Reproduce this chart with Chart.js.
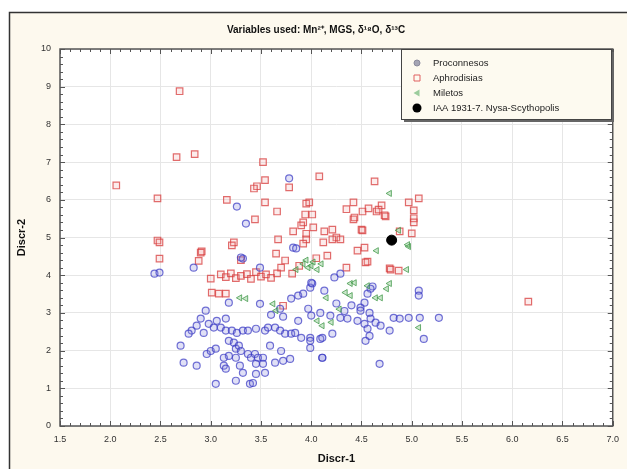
<!DOCTYPE html>
<html>
<head>
<meta charset="utf-8">
<script src="https://cdn.jsdelivr.net/npm/chart.js@4.4.0/dist/chart.umd.min.js"></script>
<style>
  html, body { margin: 0; padding: 0; background: #fff; }
  canvas { display: block; }
</style>
</head>
<body>
<canvas id="myChart" width="627" height="469"></canvas>
<script>
// Proconnesos
var procX = [2.95, 2.90, 2.98, 2.86, 2.81, 2.78, 2.93, 3.03, 3.06, 3.15, 3.10, 3.15, 3.21, 3.26, 3.32, 3.37, 3.45, 3.54, 3.57, 3.64, 3.69, 3.74, 3.80, 3.84, 3.90, 3.99, 4.09,
	2.70, 2.96, 3.00, 3.05, 3.18, 3.23, 3.25, 3.28, 3.30, 3.25, 3.18, 3.13, 3.37, 3.40, 3.44, 3.47, 3.52, 3.45, 3.52, 3.59, 3.70, 3.64, 3.72, 3.79, 3.99, 3.99, 4.11,
	2.73, 2.86, 3.13, 3.15, 3.29, 3.32, 3.45, 3.54, 3.05, 3.25, 3.39, 3.42,
	3.18, 3.49, 3.69, 3.80, 3.87, 3.92, 3.99, 4.01, 3.87, 3.97, 4.00, 4.13, 2.44, 2.49, 3.32, 2.83, 3.30, 3.49, 4.00, 4.23, 4.61, 3.82, 3.85, 3.78, 3.26, 3.35, 4.29,
	4.59, 4.56, 4.53, 4.49, 5.07, 5.07, 4.09, 4.19, 4.29, 4.36, 4.49, 4.58, 4.59, 4.64, 4.69, 4.46, 4.53, 4.56, 4.58, 4.54, 4.82, 4.88, 4.97, 5.08, 4.78, 5.12,
	4.11, 4.21, 4.11, 5.27, 4.68, 4.25, 4.33, 4.40, 3.60, 3.72];
var procY = [3.06, 2.85, 2.71, 2.66, 2.53, 2.45, 2.47, 2.61, 2.79, 2.85, 2.61, 2.53, 2.53, 2.47, 2.53, 2.53, 2.58, 2.53, 2.61, 2.61, 2.53, 2.45, 2.45, 2.47, 2.34, 2.34, 2.31,
	2.13, 1.91, 1.99, 2.05, 2.26, 2.21, 2.05, 2.13, 1.99, 1.81, 1.86, 1.81, 1.91, 1.81, 1.91, 1.81, 1.81, 1.65, 1.65, 2.13, 1.99, 1.68, 1.73, 1.78, 2.26, 2.07, 1.81,
	1.68, 1.60, 1.60, 1.52, 1.60, 1.41, 1.38, 1.41, 1.12, 1.20, 1.12, 1.14,
	3.27, 3.24, 3.11, 3.38, 3.46, 3.51, 3.67, 3.78, 2.79, 3.11, 2.93, 3.59, 4.04, 4.07, 4.44, 4.20, 4.47, 4.20, 3.80, 3.94, 3.70, 4.73, 4.71, 6.57, 5.82, 5.37, 4.04,
	3.64, 3.51, 3.27, 3.14, 3.59, 3.46, 3.00, 2.93, 2.87, 2.85, 3.06, 3.00, 2.85, 2.74, 2.66, 2.79, 2.71, 2.58, 2.39, 2.26, 2.87, 2.85, 2.87, 2.87, 2.53, 2.31,
	2.34, 2.45, 1.81, 2.87, 1.65, 3.25, 3.05, 3.20, 2.95, 2.90];

// Aphrodisias
var aphX = [2.69, 2.66, 2.84, 2.06, 2.47, 3.52, 3.46, 3.54, 3.43, 3.78, 3.16, 3.54, 3.66, 3.95, 3.44, 3.92, 2.47, 4.08, 4.63, 3.98, 4.42, 4.51, 4.57, 4.65, 4.70,
	4.74, 4.42, 3.94, 4.01, 3.90, 4.02, 4.13, 4.21, 4.25, 4.21, 4.29, 4.50, 3.82, 3.67, 3.95, 3.92, 4.12, 4.46, 4.53, 3.23, 3.21, 3.65, 3.74, 4.16, 4.56, 4.78,
	2.91, 3.00, 3.10, 3.15, 3.20, 3.25, 3.30, 3.36, 3.40, 3.45, 3.50, 3.55, 3.60, 3.66, 3.81, 4.97, 5.07, 5.02, 5.02, 5.02, 5.00, 4.88, 4.73, 4.67, 4.43, 4.51,
	4.79, 4.87, 6.16, 2.49, 2.49, 2.90, 2.88, 3.01, 3.08, 3.15, 3.72, 4.54, 4.35, 4.05, 3.88, 3.95, 4.35, 3.30, 3.70];
var aphY = [8.88, 7.13, 7.21, 6.38, 6.04, 7.00, 6.36, 6.52, 6.30, 6.33, 6.00, 5.93, 5.69, 5.90, 5.48, 5.40, 4.92, 6.62, 6.49, 5.93, 5.93, 5.69, 5.77, 5.69, 5.85,
	5.56, 5.48, 5.61, 5.61, 5.32, 5.27, 5.16, 5.21, 5.00, 4.95, 4.95, 5.21, 5.16, 4.95, 4.95, 4.84, 4.87, 4.65, 4.73, 4.87, 4.79, 4.57, 4.39, 4.52, 4.36, 4.18,
	4.63, 3.91, 4.02, 3.95, 4.05, 3.92, 3.98, 4.03, 3.90, 4.08, 3.96, 4.02, 3.93, 4.05, 4.04, 5.93, 6.04, 5.72, 5.51, 5.40, 5.11, 5.16, 5.59, 5.74, 5.53, 5.19,
	4.15, 4.12, 3.30, 4.87, 4.44, 4.60, 4.38, 3.54, 3.51, 3.51, 3.19, 4.34, 4.20, 4.45, 4.25, 5.10, 5.75, 4.40, 4.20];

// Miletos
var milX = [4.78, 4.65, 3.92, 3.97, 4.02, 4.06, 3.95, 4.00, 4.10, 4.39, 4.56, 4.87, 4.96, 4.97, 4.95, 4.78, 4.75, 4.69, 5.07, 4.43, 4.34, 4.39, 4.64,
	3.29, 3.35, 3.62, 3.65, 4.06, 4.11, 4.28, 4.20, 4.15, 3.85];
var milY = [6.17, 4.65, 4.30, 4.20, 4.35, 4.15, 4.40, 4.25, 4.30, 3.78, 3.72, 5.19, 4.81, 4.76, 4.15, 3.78, 3.64, 3.40, 2.61, 3.80, 3.54, 3.46, 3.40,
	3.40, 3.38, 3.24, 3.06, 2.79, 2.66, 3.10, 2.75, 3.40, 4.15];

// IAA 1931-7. Nysa-Scythopolis
var nysaX = [4.80];
var nysaY = [4.93];

var seriesNames = ['Proconnesos', 'Aphrodisias', 'Miletos', 'IAA 1931-7. Nysa-Scythopolis'];
var xTicks = [1.5, 2.0, 2.5, 3.0, 3.5, 4.0, 4.5, 5.0, 5.5, 6.0, 6.5, 7.0];
var yTicks = [0, 1, 2, 3, 4, 5, 6, 7, 8, 9, 10];

function toPoints(xs, ys) {
	var pts = [];
	for (var i = 0; i < xs.length; i++) pts.push({x: xs[i], y: ys[i]});
	return pts;
}

var FONT = '"Liberation Sans", Arial, sans-serif';

// cream frame and white plot area
var backdrop = {
	id: 'backdrop',
	beforeDraw: function(chart) {
		var c = chart.ctx, a = chart.chartArea;
		c.save();
		c.fillStyle = '#ffffff';
		c.fillRect(0, 0, chart.width, chart.height);
		c.fillStyle = '#fdf9ee';
		c.fillRect(9, 12, chart.width - 9, chart.height - 12);
		c.strokeStyle = '#333';
		c.lineWidth = 1.5;
		c.beginPath();
		c.moveTo(9.5, chart.height);
		c.lineTo(9.5, 12.5);
		c.lineTo(chart.width, 12.5);
		c.stroke();
		c.fillStyle = '#ffffff';
		c.fillRect(a.left, a.top, a.right - a.left, a.bottom - a.top);
		c.restore();
	}
};

function marker(c, style, x, y) {
	c.beginPath();
	if (style === 'circle') {
		c.arc(x, y, 3, 0, Math.PI * 2);
		c.fillStyle = '#a4a4b4';
		c.strokeStyle = '#8a8a9c';
		c.fill(); c.stroke();
	} else if (style === 'rect') {
		c.rect(x - 3, y - 3, 6, 6);
		c.strokeStyle = '#e06060';
		c.stroke();
	} else if (style === 'tri') {
		c.moveTo(x - 3.5, y);
		c.lineTo(x + 2.5, y - 3.5);
		c.lineTo(x + 2.5, y + 3.5);
		c.closePath();
		c.fillStyle = '#9ccc9c';
		c.fill();
	} else {
		c.arc(x, y, 4.5, 0, Math.PI * 2);
		c.fillStyle = '#000';
		c.fill();
	}
}

var frame = {
	id: 'frame',
	afterDraw: function(chart) {
		var c = chart.ctx, a = chart.chartArea;
		var xs = chart.scales.x, ys = chart.scales.y;
		c.save();
		// plot border
		c.strokeStyle = '#555';
		c.lineWidth = 1.5;
		c.strokeRect(a.left, a.top, a.right - a.left, a.bottom - a.top);
		// minor ticks
		c.lineWidth = 1;
		c.strokeStyle = '#555';
		c.beginPath();
		for (var i = 0; i <= 55; i++) {
			var px = Math.round(xs.getPixelForValue(1.5 + i * 0.1)) + 0.5;
			var len = (i % 5 === 0) ? 5 : 3;
			c.moveTo(px, a.bottom); c.lineTo(px, a.bottom - len);
			c.moveTo(px, a.top); c.lineTo(px, a.top + len);
		}
		for (var j = 0; j <= 50; j++) {
			var py = Math.round(ys.getPixelForValue(j * 0.2)) + 0.5;
			var l2 = (j % 5 === 0) ? 5 : 3;
			c.moveTo(a.left, py); c.lineTo(a.left + l2, py);
			c.moveTo(a.right, py); c.lineTo(a.right - l2, py);
		}
		c.stroke();
		// title
		c.fillStyle = '#111';
		c.font = 'bold 10px ' + FONT;
		c.textAlign = 'center';
		c.textBaseline = 'middle';
		c.fillText('Variables used: Mn²⁺, MGS, δ¹⁸O, δ¹³C', 316, 30);
		// legend
		var lx = 401, ly = 49, lw = 210, lh = 70;
		c.fillStyle = '#666';
		c.fillRect(lx + 3, ly + 3, lw, lh);
		c.fillStyle = '#fdfaf0';
		c.fillRect(lx, ly, lw, lh);
		c.strokeStyle = '#444';
		c.lineWidth = 1;
		c.strokeRect(lx + 0.5, ly + 0.5, lw, lh);
		var styles = ['circle', 'rect', 'tri', 'dot'];
		c.font = '9.5px ' + FONT;
		c.textAlign = 'left';
		for (var k = 0; k < seriesNames.length; k++) {
			var ry = 63 + k * 15;
			marker(c, styles[k], 417, ry);
			c.fillStyle = '#222';
			c.fillText(seriesNames[k], 433, ry);
		}
		c.restore();
	}
};

var ctx = document.getElementById('myChart').getContext('2d');
var myChart = new Chart(ctx, {
	type: 'scatter',
	data: {
		datasets: [{
			label: seriesNames[3],
			data: toPoints(nysaX, nysaY),
			pointStyle: 'circle',
			pointRadius: 5,
			backgroundColor: '#000',
			borderColor: '#000',
			borderWidth: 1
		}, {
			label: seriesNames[2],
			data: toPoints(milX, milY),
			pointStyle: 'triangle',
			rotation: -90,
			pointRadius: 3.5,
			backgroundColor: 'rgba(110,185,110,0.35)',
			borderColor: 'rgba(60,150,70,0.75)',
			borderWidth: 1
		}, {
			label: seriesNames[0],
			data: toPoints(procX, procY),
			pointStyle: 'circle',
			pointRadius: 3.5,
			backgroundColor: 'rgba(130,130,220,0.25)',
			borderColor: 'rgba(55,55,195,0.7)',
			borderWidth: 1.2
		}, {
			label: seriesNames[1],
			data: toPoints(aphX, aphY),
			pointStyle: 'rect',
			pointRadius: 4.6,
			backgroundColor: 'rgba(240,160,160,0.2)',
			borderColor: 'rgba(215,60,60,0.75)',
			borderWidth: 1.2
		}]
	},
	options: {
		responsive: false,
		animation: false,
		devicePixelRatio: 1,
		layout: { padding: { top: 49, right: 9, left: 0, bottom: 0 } },
		plugins: {
			legend: { display: false },
			tooltip: { enabled: false }
		},
		scales: {
			x: {
				type: 'linear',
				min: 1.5,
				max: 7.0,
				afterBuildTicks: function(s) { s.ticks = xTicks.map(function(v) { return {value: v}; }); },
				afterFit: function(s) { s.height = 43; },
				ticks: {
					padding: 8,
					color: '#333',
					font: { family: FONT, size: 9 },
					callback: function(v) { return v.toFixed(1); }
				},
				grid: { color: '#e6e6e6', drawTicks: false },
				border: { display: false },
				title: {
					display: true,
					text: 'Discr-1',
					color: '#111',
					font: { family: FONT, size: 11, weight: 'bold' },
					padding: { top: 0, bottom: 3 }
				}
			},
			y: {
				min: 0,
				max: 10,
				afterBuildTicks: function(s) { s.ticks = yTicks.map(function(v) { return {value: v}; }); },
				afterFit: function(s) { s.width = 60; },
				ticks: {
					padding: 9,
					color: '#333',
					font: { family: FONT, size: 9 }
				},
				grid: { color: '#e6e6e6', drawTicks: false },
				border: { display: false },
				title: {
					display: true,
					text: 'Discr-2',
					color: '#111',
					font: { family: FONT, size: 11, weight: 'bold' },
					padding: { top: 15, bottom: 0 }
				}
			}
		}
	},
	plugins: [backdrop, frame]
});
</script>
</body>
</html>
